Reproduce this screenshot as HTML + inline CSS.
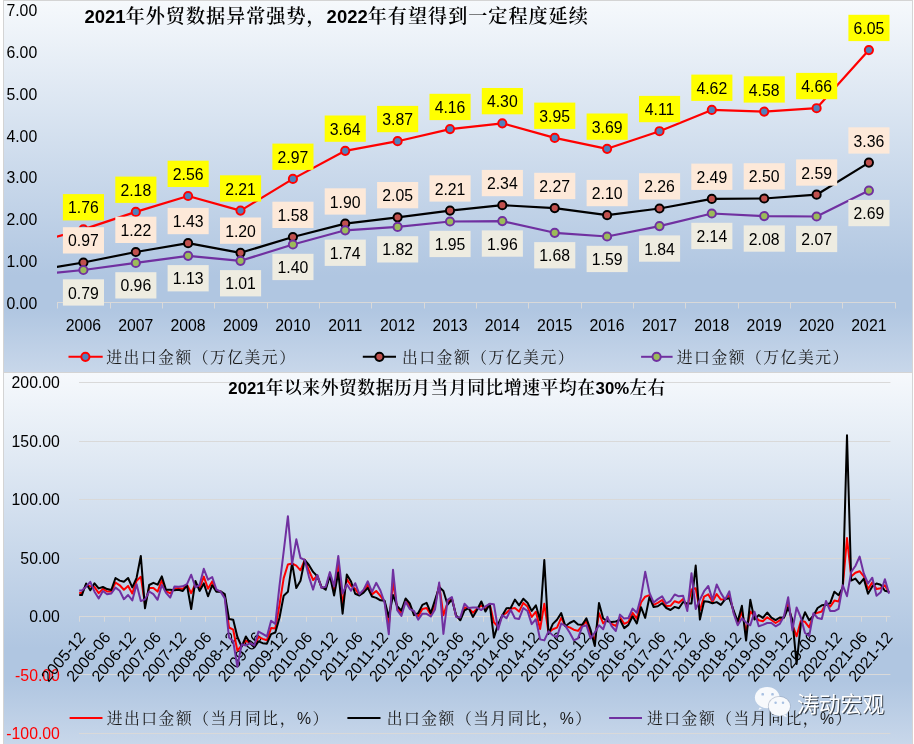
<!DOCTYPE html>
<html lang="zh-CN"><head><meta charset="utf-8"><title>2021年外贸数据</title>
<style>html,body{margin:0;padding:0;background:#fff;}svg{display:block;will-change:transform;}text{font-family:"Liberation Sans","Noto Sans CJK SC",sans-serif;}.num{font-size:15.8px;fill:#000;}.neg{font-size:15.8px;fill:#ff0000;}.lg{font-family:"Liberation Sans","Noto Serif CJK SC",serif;font-size:15.8px;letter-spacing:1.5px;fill:#1a1a1a;}.t1{font-family:"Liberation Sans","Noto Serif CJK SC",serif;font-weight:600;font-size:19.1px;letter-spacing:1px;fill:#000;}.t2{font-family:"Liberation Sans","Noto Serif CJK SC",serif;font-weight:600;font-size:17.8px;letter-spacing:0.55px;fill:#000;}</style></head><body>
<svg width="914" height="744" viewBox="0 0 914 744">
<defs><linearGradient id="bg" x1="0" y1="0" x2="0" y2="1"><stop offset="0" stop-color="#f6f9fc"/><stop offset="0.74" stop-color="#b0c6e1"/><stop offset="0.83" stop-color="#b0c6e1"/><stop offset="1" stop-color="#c8d7ea"/></linearGradient><clipPath id="c1"><rect x="57" y="0" width="839" height="372"/></clipPath></defs>
<rect x="0" y="0" width="914" height="744" fill="#ffffff"/>
<rect x="3.5" y="0.5" width="909" height="372" fill="url(#bg)" stroke="#d4d4d4" stroke-width="1"/>
<rect x="3.5" y="372.5" width="909" height="372" fill="url(#bg)" stroke="#d4d4d4" stroke-width="1"/>
<text class="num" x="37.2" y="308.7" text-anchor="end">0.00</text>
<text class="num" x="37.2" y="266.9" text-anchor="end">1.00</text>
<text class="num" x="37.2" y="225.1" text-anchor="end">2.00</text>
<text class="num" x="37.2" y="183.3" text-anchor="end">3.00</text>
<text class="num" x="37.2" y="141.5" text-anchor="end">4.00</text>
<text class="num" x="37.2" y="99.7" text-anchor="end">5.00</text>
<text class="num" x="37.2" y="57.9" text-anchor="end">6.00</text>
<text class="num" x="37.2" y="16.1" text-anchor="end">7.00</text>
<path d="M57 302.5H895.6" stroke="#d9d9d9" stroke-width="1" fill="none"/>
<path d="M57.5 302.5v6M110.5 302.5v6M162.5 302.5v6M214.5 302.5v6M267.5 302.5v6M319.5 302.5v6M371.5 302.5v6M424.5 302.5v6M476.5 302.5v6M528.5 302.5v6M581.5 302.5v6M633.5 302.5v6M685.5 302.5v6M738.5 302.5v6M790.5 302.5v6M842.5 302.5v6M895.5 302.5v6" stroke="#d9d9d9" stroke-width="1" fill="none"/>
<text class="num" x="83.4" y="331.4" text-anchor="middle">2006</text>
<text class="num" x="135.8" y="331.4" text-anchor="middle">2007</text>
<text class="num" x="188.1" y="331.4" text-anchor="middle">2008</text>
<text class="num" x="240.5" y="331.4" text-anchor="middle">2009</text>
<text class="num" x="292.9" y="331.4" text-anchor="middle">2010</text>
<text class="num" x="345.2" y="331.4" text-anchor="middle">2011</text>
<text class="num" x="397.6" y="331.4" text-anchor="middle">2012</text>
<text class="num" x="450.0" y="331.4" text-anchor="middle">2013</text>
<text class="num" x="502.3" y="331.4" text-anchor="middle">2014</text>
<text class="num" x="554.7" y="331.4" text-anchor="middle">2015</text>
<text class="num" x="607.1" y="331.4" text-anchor="middle">2016</text>
<text class="num" x="659.5" y="331.4" text-anchor="middle">2017</text>
<text class="num" x="711.8" y="331.4" text-anchor="middle">2018</text>
<text class="num" x="764.2" y="331.4" text-anchor="middle">2019</text>
<text class="num" x="816.6" y="331.4" text-anchor="middle">2020</text>
<text class="num" x="868.9" y="331.4" text-anchor="middle">2021</text>
<text class="t1" x="84.5" y="23.4"><tspan style="font-size:18.5px;letter-spacing:0">2021</tspan>年外贸数据异常强势，<tspan style="font-size:18.5px;letter-spacing:0">2022</tspan>年有望得到一定程度延续</text>
<g clip-path="url(#c1)"><polyline points="31.0,243.6 83.4,229.4 135.8,211.9 188.1,196.0 240.5,210.6 292.9,178.9 345.2,150.8 397.6,141.2 450.0,129.1 502.3,123.3 554.7,137.9 607.1,148.8 659.5,131.2 711.8,109.9 764.2,111.6 816.6,108.2 868.9,50.1" fill="none" stroke="#ff0000" stroke-width="2.2" stroke-linejoin="round"/></g>
<circle cx="83.4" cy="229.4" r="4.1" fill="#4f81bd" stroke="#ff0000" stroke-width="1.95"/>
<circle cx="135.8" cy="211.9" r="4.1" fill="#4f81bd" stroke="#ff0000" stroke-width="1.95"/>
<circle cx="188.1" cy="196.0" r="4.1" fill="#4f81bd" stroke="#ff0000" stroke-width="1.95"/>
<circle cx="240.5" cy="210.6" r="4.1" fill="#4f81bd" stroke="#ff0000" stroke-width="1.95"/>
<circle cx="292.9" cy="178.9" r="4.1" fill="#4f81bd" stroke="#ff0000" stroke-width="1.95"/>
<circle cx="345.2" cy="150.8" r="4.1" fill="#4f81bd" stroke="#ff0000" stroke-width="1.95"/>
<circle cx="397.6" cy="141.2" r="4.1" fill="#4f81bd" stroke="#ff0000" stroke-width="1.95"/>
<circle cx="450.0" cy="129.1" r="4.1" fill="#4f81bd" stroke="#ff0000" stroke-width="1.95"/>
<circle cx="502.3" cy="123.3" r="4.1" fill="#4f81bd" stroke="#ff0000" stroke-width="1.95"/>
<circle cx="554.7" cy="137.9" r="4.1" fill="#4f81bd" stroke="#ff0000" stroke-width="1.95"/>
<circle cx="607.1" cy="148.8" r="4.1" fill="#4f81bd" stroke="#ff0000" stroke-width="1.95"/>
<circle cx="659.5" cy="131.2" r="4.1" fill="#4f81bd" stroke="#ff0000" stroke-width="1.95"/>
<circle cx="711.8" cy="109.9" r="4.1" fill="#4f81bd" stroke="#ff0000" stroke-width="1.95"/>
<circle cx="764.2" cy="111.6" r="4.1" fill="#4f81bd" stroke="#ff0000" stroke-width="1.95"/>
<circle cx="816.6" cy="108.2" r="4.1" fill="#4f81bd" stroke="#ff0000" stroke-width="1.95"/>
<circle cx="868.9" cy="50.1" r="4.1" fill="#4f81bd" stroke="#ff0000" stroke-width="1.95"/>
<g clip-path="url(#c1)"><polyline points="31.0,271.1 83.4,262.5 135.8,252.0 188.1,243.2 240.5,252.8 292.9,237.0 345.2,223.6 397.6,217.3 450.0,210.6 502.3,205.2 554.7,208.1 607.1,215.2 659.5,208.5 711.8,198.9 764.2,198.5 816.6,194.7 868.9,162.6" fill="none" stroke="#000000" stroke-width="2.2" stroke-linejoin="round"/></g>
<circle cx="83.4" cy="262.5" r="4.1" fill="#c0504d" stroke="#000000" stroke-width="1.95"/>
<circle cx="135.8" cy="252.0" r="4.1" fill="#c0504d" stroke="#000000" stroke-width="1.95"/>
<circle cx="188.1" cy="243.2" r="4.1" fill="#c0504d" stroke="#000000" stroke-width="1.95"/>
<circle cx="240.5" cy="252.8" r="4.1" fill="#c0504d" stroke="#000000" stroke-width="1.95"/>
<circle cx="292.9" cy="237.0" r="4.1" fill="#c0504d" stroke="#000000" stroke-width="1.95"/>
<circle cx="345.2" cy="223.6" r="4.1" fill="#c0504d" stroke="#000000" stroke-width="1.95"/>
<circle cx="397.6" cy="217.3" r="4.1" fill="#c0504d" stroke="#000000" stroke-width="1.95"/>
<circle cx="450.0" cy="210.6" r="4.1" fill="#c0504d" stroke="#000000" stroke-width="1.95"/>
<circle cx="502.3" cy="205.2" r="4.1" fill="#c0504d" stroke="#000000" stroke-width="1.95"/>
<circle cx="554.7" cy="208.1" r="4.1" fill="#c0504d" stroke="#000000" stroke-width="1.95"/>
<circle cx="607.1" cy="215.2" r="4.1" fill="#c0504d" stroke="#000000" stroke-width="1.95"/>
<circle cx="659.5" cy="208.5" r="4.1" fill="#c0504d" stroke="#000000" stroke-width="1.95"/>
<circle cx="711.8" cy="198.9" r="4.1" fill="#c0504d" stroke="#000000" stroke-width="1.95"/>
<circle cx="764.2" cy="198.5" r="4.1" fill="#c0504d" stroke="#000000" stroke-width="1.95"/>
<circle cx="816.6" cy="194.7" r="4.1" fill="#c0504d" stroke="#000000" stroke-width="1.95"/>
<circle cx="868.9" cy="162.6" r="4.1" fill="#c0504d" stroke="#000000" stroke-width="1.95"/>
<g clip-path="url(#c1)"><polyline points="31.0,275.4 83.4,270.0 135.8,262.9 188.1,255.8 240.5,260.8 292.9,244.5 345.2,230.3 397.6,226.9 450.0,221.5 502.3,221.1 554.7,232.8 607.1,236.5 659.5,226.1 711.8,213.5 764.2,216.1 816.6,216.5 868.9,190.6" fill="none" stroke="#7030a0" stroke-width="2.2" stroke-linejoin="round"/></g>
<circle cx="83.4" cy="270.0" r="4.1" fill="#9bbb59" stroke="#7030a0" stroke-width="1.95"/>
<circle cx="135.8" cy="262.9" r="4.1" fill="#9bbb59" stroke="#7030a0" stroke-width="1.95"/>
<circle cx="188.1" cy="255.8" r="4.1" fill="#9bbb59" stroke="#7030a0" stroke-width="1.95"/>
<circle cx="240.5" cy="260.8" r="4.1" fill="#9bbb59" stroke="#7030a0" stroke-width="1.95"/>
<circle cx="292.9" cy="244.5" r="4.1" fill="#9bbb59" stroke="#7030a0" stroke-width="1.95"/>
<circle cx="345.2" cy="230.3" r="4.1" fill="#9bbb59" stroke="#7030a0" stroke-width="1.95"/>
<circle cx="397.6" cy="226.9" r="4.1" fill="#9bbb59" stroke="#7030a0" stroke-width="1.95"/>
<circle cx="450.0" cy="221.5" r="4.1" fill="#9bbb59" stroke="#7030a0" stroke-width="1.95"/>
<circle cx="502.3" cy="221.1" r="4.1" fill="#9bbb59" stroke="#7030a0" stroke-width="1.95"/>
<circle cx="554.7" cy="232.8" r="4.1" fill="#9bbb59" stroke="#7030a0" stroke-width="1.95"/>
<circle cx="607.1" cy="236.5" r="4.1" fill="#9bbb59" stroke="#7030a0" stroke-width="1.95"/>
<circle cx="659.5" cy="226.1" r="4.1" fill="#9bbb59" stroke="#7030a0" stroke-width="1.95"/>
<circle cx="711.8" cy="213.5" r="4.1" fill="#9bbb59" stroke="#7030a0" stroke-width="1.95"/>
<circle cx="764.2" cy="216.1" r="4.1" fill="#9bbb59" stroke="#7030a0" stroke-width="1.95"/>
<circle cx="816.6" cy="216.5" r="4.1" fill="#9bbb59" stroke="#7030a0" stroke-width="1.95"/>
<circle cx="868.9" cy="190.6" r="4.1" fill="#9bbb59" stroke="#7030a0" stroke-width="1.95"/>
<rect x="62.9" y="194.1" width="41.1" height="26.3" fill="#ffff00"/>
<text class="num" x="83.4" y="213.3" text-anchor="middle">1.76</text>
<rect x="115.3" y="176.6" width="41.1" height="26.3" fill="#ffff00"/>
<text class="num" x="135.8" y="195.8" text-anchor="middle">2.18</text>
<rect x="167.6" y="160.7" width="41.1" height="26.3" fill="#ffff00"/>
<text class="num" x="188.1" y="179.9" text-anchor="middle">2.56</text>
<rect x="220.0" y="175.3" width="41.1" height="26.3" fill="#ffff00"/>
<text class="num" x="240.5" y="194.5" text-anchor="middle">2.21</text>
<rect x="272.4" y="143.6" width="41.1" height="26.3" fill="#ffff00"/>
<text class="num" x="292.9" y="162.8" text-anchor="middle">2.97</text>
<rect x="324.7" y="115.5" width="41.1" height="26.3" fill="#ffff00"/>
<text class="num" x="345.2" y="134.7" text-anchor="middle">3.64</text>
<rect x="377.1" y="105.9" width="41.1" height="26.3" fill="#ffff00"/>
<text class="num" x="397.6" y="125.1" text-anchor="middle">3.87</text>
<rect x="429.5" y="93.8" width="41.1" height="26.3" fill="#ffff00"/>
<text class="num" x="450.0" y="113.0" text-anchor="middle">4.16</text>
<rect x="481.8" y="88.0" width="41.1" height="26.3" fill="#ffff00"/>
<text class="num" x="502.3" y="107.2" text-anchor="middle">4.30</text>
<rect x="534.2" y="102.6" width="41.1" height="26.3" fill="#ffff00"/>
<text class="num" x="554.7" y="121.8" text-anchor="middle">3.95</text>
<rect x="586.6" y="113.5" width="41.1" height="26.3" fill="#ffff00"/>
<text class="num" x="607.1" y="132.7" text-anchor="middle">3.69</text>
<rect x="639.0" y="95.9" width="41.1" height="26.3" fill="#ffff00"/>
<text class="num" x="659.5" y="115.1" text-anchor="middle">4.11</text>
<rect x="691.3" y="74.6" width="41.1" height="26.3" fill="#ffff00"/>
<text class="num" x="711.8" y="93.8" text-anchor="middle">4.62</text>
<rect x="743.7" y="76.3" width="41.1" height="26.3" fill="#ffff00"/>
<text class="num" x="764.2" y="95.5" text-anchor="middle">4.58</text>
<rect x="796.1" y="72.9" width="41.1" height="26.3" fill="#ffff00"/>
<text class="num" x="816.6" y="92.1" text-anchor="middle">4.66</text>
<rect x="848.4" y="14.8" width="41.1" height="26.3" fill="#ffff00"/>
<text class="num" x="868.9" y="34.0" text-anchor="middle">6.05</text>
<rect x="62.9" y="227.2" width="41.1" height="26.3" fill="#fde9d9"/>
<text class="num" x="83.4" y="246.4" text-anchor="middle">0.97</text>
<rect x="115.3" y="216.7" width="41.1" height="26.3" fill="#fde9d9"/>
<text class="num" x="135.8" y="235.9" text-anchor="middle">1.22</text>
<rect x="167.6" y="207.9" width="41.1" height="26.3" fill="#fde9d9"/>
<text class="num" x="188.1" y="227.1" text-anchor="middle">1.43</text>
<rect x="220.0" y="217.5" width="41.1" height="26.3" fill="#fde9d9"/>
<text class="num" x="240.5" y="236.7" text-anchor="middle">1.20</text>
<rect x="272.4" y="201.7" width="41.1" height="26.3" fill="#fde9d9"/>
<text class="num" x="292.9" y="220.9" text-anchor="middle">1.58</text>
<rect x="324.7" y="188.3" width="41.1" height="26.3" fill="#fde9d9"/>
<text class="num" x="345.2" y="207.5" text-anchor="middle">1.90</text>
<rect x="377.1" y="182.0" width="41.1" height="26.3" fill="#fde9d9"/>
<text class="num" x="397.6" y="201.2" text-anchor="middle">2.05</text>
<rect x="429.5" y="175.3" width="41.1" height="26.3" fill="#fde9d9"/>
<text class="num" x="450.0" y="194.5" text-anchor="middle">2.21</text>
<rect x="481.8" y="169.9" width="41.1" height="26.3" fill="#fde9d9"/>
<text class="num" x="502.3" y="189.1" text-anchor="middle">2.34</text>
<rect x="534.2" y="172.8" width="41.1" height="26.3" fill="#fde9d9"/>
<text class="num" x="554.7" y="192.0" text-anchor="middle">2.27</text>
<rect x="586.6" y="179.9" width="41.1" height="26.3" fill="#fde9d9"/>
<text class="num" x="607.1" y="199.1" text-anchor="middle">2.10</text>
<rect x="639.0" y="173.2" width="41.1" height="26.3" fill="#fde9d9"/>
<text class="num" x="659.5" y="192.4" text-anchor="middle">2.26</text>
<rect x="691.3" y="163.6" width="41.1" height="26.3" fill="#fde9d9"/>
<text class="num" x="711.8" y="182.8" text-anchor="middle">2.49</text>
<rect x="743.7" y="163.2" width="41.1" height="26.3" fill="#fde9d9"/>
<text class="num" x="764.2" y="182.4" text-anchor="middle">2.50</text>
<rect x="796.1" y="159.4" width="41.1" height="26.3" fill="#fde9d9"/>
<text class="num" x="816.6" y="178.6" text-anchor="middle">2.59</text>
<rect x="848.4" y="127.3" width="41.1" height="26.3" fill="#fde9d9"/>
<text class="num" x="868.9" y="146.5" text-anchor="middle">3.36</text>
<rect x="62.9" y="279.3" width="41.1" height="26.3" fill="#eeece1"/>
<text class="num" x="83.4" y="298.5" text-anchor="middle">0.79</text>
<rect x="115.3" y="272.2" width="41.1" height="26.3" fill="#eeece1"/>
<text class="num" x="135.8" y="291.4" text-anchor="middle">0.96</text>
<rect x="167.6" y="265.1" width="41.1" height="26.3" fill="#eeece1"/>
<text class="num" x="188.1" y="284.3" text-anchor="middle">1.13</text>
<rect x="220.0" y="270.1" width="41.1" height="26.3" fill="#eeece1"/>
<text class="num" x="240.5" y="289.3" text-anchor="middle">1.01</text>
<rect x="272.4" y="253.8" width="41.1" height="26.3" fill="#eeece1"/>
<text class="num" x="292.9" y="273.0" text-anchor="middle">1.40</text>
<rect x="324.7" y="239.6" width="41.1" height="26.3" fill="#eeece1"/>
<text class="num" x="345.2" y="258.8" text-anchor="middle">1.74</text>
<rect x="377.1" y="236.2" width="41.1" height="26.3" fill="#eeece1"/>
<text class="num" x="397.6" y="255.4" text-anchor="middle">1.82</text>
<rect x="429.5" y="230.8" width="41.1" height="26.3" fill="#eeece1"/>
<text class="num" x="450.0" y="250.0" text-anchor="middle">1.95</text>
<rect x="481.8" y="230.4" width="41.1" height="26.3" fill="#eeece1"/>
<text class="num" x="502.3" y="249.6" text-anchor="middle">1.96</text>
<rect x="534.2" y="242.1" width="41.1" height="26.3" fill="#eeece1"/>
<text class="num" x="554.7" y="261.3" text-anchor="middle">1.68</text>
<rect x="586.6" y="245.8" width="41.1" height="26.3" fill="#eeece1"/>
<text class="num" x="607.1" y="265.0" text-anchor="middle">1.59</text>
<rect x="639.0" y="235.4" width="41.1" height="26.3" fill="#eeece1"/>
<text class="num" x="659.5" y="254.6" text-anchor="middle">1.84</text>
<rect x="691.3" y="222.8" width="41.1" height="26.3" fill="#eeece1"/>
<text class="num" x="711.8" y="242.0" text-anchor="middle">2.14</text>
<rect x="743.7" y="225.4" width="41.1" height="26.3" fill="#eeece1"/>
<text class="num" x="764.2" y="244.6" text-anchor="middle">2.08</text>
<rect x="796.1" y="225.8" width="41.1" height="26.3" fill="#eeece1"/>
<text class="num" x="816.6" y="245.0" text-anchor="middle">2.07</text>
<rect x="848.4" y="199.9" width="41.1" height="26.3" fill="#eeece1"/>
<text class="num" x="868.9" y="219.1" text-anchor="middle">2.69</text>
<path d="M68.5 356.8H102.7" stroke="#ff0000" stroke-width="2"/>
<circle cx="85.4" cy="356.8" r="4.1" fill="#4f81bd" stroke="#ff0000" stroke-width="1.95"/>
<text class="lg" x="106.2" y="363">进出口金额（万亿美元）</text>
<path d="M362.8 356.8H396" stroke="#000000" stroke-width="2"/>
<circle cx="379.4" cy="356.8" r="4.1" fill="#c0504d" stroke="#000000" stroke-width="1.95"/>
<text class="lg" x="402.0" y="363">出口金额（万亿美元）</text>
<path d="M641.1 356.8H672.6" stroke="#7030a0" stroke-width="2"/>
<circle cx="656.6" cy="356.8" r="4.1" fill="#9bbb59" stroke="#7030a0" stroke-width="1.95"/>
<text class="lg" x="676.8" y="363">进口金额（万亿美元）</text>
<path d="M79 382.5H890.4M79 441.5H890.4M79 499.5H890.4M79 558.5H890.4M79 674.5H890.4M79 733.5H890.4" stroke="#d9d9d9" stroke-width="1" fill="none"/>
<path d="M79 616.5H890.4M79.5 616.5v5.2M104.5 616.5v5.2M129.5 616.5v5.2M155.5 616.5v5.2M180.5 616.5v5.2M205.5 616.5v5.2M230.5 616.5v5.2M256.5 616.5v5.2M281.5 616.5v5.2M306.5 616.5v5.2M331.5 616.5v5.2M356.5 616.5v5.2M382.5 616.5v5.2M407.5 616.5v5.2M432.5 616.5v5.2M457.5 616.5v5.2M483.5 616.5v5.2M508.5 616.5v5.2M533.5 616.5v5.2M558.5 616.5v5.2M583.5 616.5v5.2M609.5 616.5v5.2M634.5 616.5v5.2M659.5 616.5v5.2M684.5 616.5v5.2M710.5 616.5v5.2M735.5 616.5v5.2M760.5 616.5v5.2M785.5 616.5v5.2M810.5 616.5v5.2M836.5 616.5v5.2M861.5 616.5v5.2M886.5 616.5v5.2" stroke="#d9d9d9" stroke-width="1" fill="none"/>
<text class="num" x="59.9" y="388.0" text-anchor="end">200.00</text>
<text class="num" x="59.9" y="446.5" text-anchor="end">150.00</text>
<text class="num" x="59.9" y="505.0" text-anchor="end">100.00</text>
<text class="num" x="59.9" y="563.5" text-anchor="end">50.00</text>
<text class="num" x="59.9" y="622.0" text-anchor="end">0.00</text>
<text class="neg" x="59.9" y="680.5" text-anchor="end">-50.00</text>
<text class="neg" x="59.9" y="739.0" text-anchor="end">-100.00</text>
<text class="t2" x="228.3" y="393.7"><tspan style="font-size:16.8px;letter-spacing:0">2021</tspan>年以来外贸数据历月当月同比增速平均在<tspan style="font-size:16.8px;letter-spacing:0">30%</tspan>左右</text>
<text class="num" style="font-size:16px" transform="translate(86.3 637.8) rotate(-50)" text-anchor="end">2005-12</text>
<text class="num" style="font-size:16px" transform="translate(111.5 637.8) rotate(-50)" text-anchor="end">2006-06</text>
<text class="num" style="font-size:16px" transform="translate(136.8 637.8) rotate(-50)" text-anchor="end">2006-12</text>
<text class="num" style="font-size:16px" transform="translate(162.0 637.8) rotate(-50)" text-anchor="end">2007-06</text>
<text class="num" style="font-size:16px" transform="translate(187.2 637.8) rotate(-50)" text-anchor="end">2007-12</text>
<text class="num" style="font-size:16px" transform="translate(212.4 637.8) rotate(-50)" text-anchor="end">2008-06</text>
<text class="num" style="font-size:16px" transform="translate(237.6 637.8) rotate(-50)" text-anchor="end">2008-12</text>
<text class="num" style="font-size:16px" transform="translate(262.9 637.8) rotate(-50)" text-anchor="end">2009-06</text>
<text class="num" style="font-size:16px" transform="translate(288.1 637.8) rotate(-50)" text-anchor="end">2009-12</text>
<text class="num" style="font-size:16px" transform="translate(313.3 637.8) rotate(-50)" text-anchor="end">2010-06</text>
<text class="num" style="font-size:16px" transform="translate(338.5 637.8) rotate(-50)" text-anchor="end">2010-12</text>
<text class="num" style="font-size:16px" transform="translate(363.8 637.8) rotate(-50)" text-anchor="end">2011-06</text>
<text class="num" style="font-size:16px" transform="translate(389.0 637.8) rotate(-50)" text-anchor="end">2011-12</text>
<text class="num" style="font-size:16px" transform="translate(414.2 637.8) rotate(-50)" text-anchor="end">2012-06</text>
<text class="num" style="font-size:16px" transform="translate(439.4 637.8) rotate(-50)" text-anchor="end">2012-12</text>
<text class="num" style="font-size:16px" transform="translate(464.7 637.8) rotate(-50)" text-anchor="end">2013-06</text>
<text class="num" style="font-size:16px" transform="translate(489.9 637.8) rotate(-50)" text-anchor="end">2013-12</text>
<text class="num" style="font-size:16px" transform="translate(515.1 637.8) rotate(-50)" text-anchor="end">2014-06</text>
<text class="num" style="font-size:16px" transform="translate(540.3 637.8) rotate(-50)" text-anchor="end">2014-12</text>
<text class="num" style="font-size:16px" transform="translate(565.6 637.8) rotate(-50)" text-anchor="end">2015-06</text>
<text class="num" style="font-size:16px" transform="translate(590.8 637.8) rotate(-50)" text-anchor="end">2015-12</text>
<text class="num" style="font-size:16px" transform="translate(616.0 637.8) rotate(-50)" text-anchor="end">2016-06</text>
<text class="num" style="font-size:16px" transform="translate(641.2 637.8) rotate(-50)" text-anchor="end">2016-12</text>
<text class="num" style="font-size:16px" transform="translate(666.5 637.8) rotate(-50)" text-anchor="end">2017-06</text>
<text class="num" style="font-size:16px" transform="translate(691.7 637.8) rotate(-50)" text-anchor="end">2017-12</text>
<text class="num" style="font-size:16px" transform="translate(716.9 637.8) rotate(-50)" text-anchor="end">2018-06</text>
<text class="num" style="font-size:16px" transform="translate(742.1 637.8) rotate(-50)" text-anchor="end">2018-12</text>
<text class="num" style="font-size:16px" transform="translate(767.3 637.8) rotate(-50)" text-anchor="end">2019-06</text>
<text class="num" style="font-size:16px" transform="translate(792.6 637.8) rotate(-50)" text-anchor="end">2019-12</text>
<text class="num" style="font-size:16px" transform="translate(817.8 637.8) rotate(-50)" text-anchor="end">2020-06</text>
<text class="num" style="font-size:16px" transform="translate(843.0 637.8) rotate(-50)" text-anchor="end">2020-12</text>
<text class="num" style="font-size:16px" transform="translate(868.2 637.8) rotate(-50)" text-anchor="end">2021-06</text>
<text class="num" style="font-size:16px" transform="translate(893.5 637.8) rotate(-50)" text-anchor="end">2021-12</text>
<polyline points="79.2,593.0 81.9,593.0 86.1,584.9 90.3,586.3 94.5,587.1 98.7,593.1 102.9,588.9 107.1,591.5 111.3,591.5 115.5,582.5 119.7,585.3 123.9,589.8 128.1,585.9 132.3,593.4 136.6,580.7 140.8,576.7 145.0,604.2 149.2,588.0 153.4,588.0 157.6,591.6 161.8,580.4 166.0,591.2 170.2,593.4 174.4,588.6 178.6,588.3 182.8,588.9 187.0,584.8 191.2,593.2 195.4,583.9 199.6,588.2 203.8,576.6 208.0,588.7 212.2,581.4 216.4,590.8 220.6,591.5 224.8,596.2 229.0,627.5 233.2,629.7 237.4,650.7 241.7,645.5 245.9,640.6 250.1,643.1 254.3,646.5 258.5,636.9 262.7,638.9 266.9,640.3 271.1,628.0 275.3,628.6 279.5,604.9 283.7,578.1 287.9,564.5 292.1,563.5 296.3,565.6 300.5,570.3 304.7,559.8 308.9,570.4 313.1,580.0 317.3,575.6 321.5,587.4 325.7,588.3 329.9,573.9 334.1,591.4 338.3,564.9 342.6,604.3 346.8,579.1 351.0,585.7 355.2,588.9 359.4,594.9 363.6,591.2 367.8,584.8 372.0,594.4 376.2,591.0 380.4,595.8 384.6,601.7 388.8,625.5 393.0,582.0 397.2,608.0 401.4,613.1 405.6,599.9 409.8,606.1 414.0,613.2 418.2,616.2 422.4,608.9 426.6,608.0 430.8,614.6 435.0,604.3 439.2,585.0 443.4,615.2 447.6,602.5 451.9,598.3 456.1,616.0 460.3,619.0 464.5,607.4 468.7,608.1 472.9,612.7 477.1,608.8 481.3,605.5 485.5,609.1 489.7,604.0 493.9,622.2 498.1,626.7 502.3,615.3 506.5,612.8 510.7,608.8 514.9,608.1 519.1,611.6 523.3,602.9 527.5,606.6 531.7,617.0 535.9,611.7 540.1,629.0 544.3,603.8 548.5,632.7 552.8,629.2 557.0,627.6 561.2,617.9 565.4,626.1 569.6,627.4 573.8,629.7 578.0,630.9 582.2,625.6 586.4,621.5 590.6,633.8 594.8,639.9 599.0,613.2 603.2,623.4 607.4,619.2 611.6,624.0 615.8,625.9 620.0,617.3 624.2,623.8 628.4,621.8 632.6,612.8 636.8,618.6 641.0,602.5 645.2,596.7 649.4,595.1 653.6,604.9 657.8,602.9 662.1,600.0 666.3,606.0 670.5,605.8 674.7,601.2 678.9,602.8 683.1,599.1 687.3,607.0 691.5,589.5 695.7,588.3 699.9,610.3 704.1,596.6 708.3,594.4 712.5,601.7 716.7,594.1 720.9,599.6 725.1,599.6 729.3,595.0 733.5,611.4 737.7,623.3 741.9,611.5 746.1,632.3 750.3,611.5 754.5,615.9 758.7,620.3 762.9,621.2 767.2,617.3 771.4,620.0 775.6,623.0 779.8,620.4 784.0,617.0 788.2,602.8 792.4,624.7 796.6,636.3 800.8,621.1 805.0,621.8 809.2,627.5 813.4,614.6 817.6,612.7 821.8,611.5 826.0,603.1 830.2,606.7 834.4,600.6 838.6,601.4 842.8,586.4 847.0,538.0 851.2,576.6 855.4,572.8 859.6,571.2 863.8,576.3 868.0,589.1 872.3,582.4 876.5,589.1 880.7,588.2 884.9,585.4 889.1,592.6" fill="none" stroke="#ff0000" stroke-width="2" stroke-linejoin="round"/>
<polyline points="79.2,595.1 81.9,595.1 86.1,583.5 90.3,590.3 94.5,583.3 98.7,588.4 102.9,587.0 107.1,589.1 111.3,590.0 115.5,578.0 119.7,580.6 123.9,581.8 128.1,578.0 132.3,587.4 136.6,577.8 140.8,555.9 145.0,608.3 149.2,585.0 153.4,582.8 157.6,584.7 161.8,576.4 166.0,589.8 170.2,589.7 174.4,590.3 178.6,589.7 182.8,591.0 187.0,585.4 191.2,609.0 195.4,580.9 199.6,590.9 203.8,583.4 208.0,596.3 212.2,585.2 216.4,591.8 220.6,591.4 224.8,594.2 229.0,619.0 233.2,619.8 237.4,637.0 241.7,646.6 245.9,636.5 250.1,643.1 254.3,647.4 258.5,641.4 262.7,643.2 266.9,643.7 271.1,634.1 275.3,632.5 279.5,617.8 283.7,595.8 287.9,591.8 292.1,562.9 296.3,588.1 300.5,580.8 304.7,559.8 308.9,565.0 313.1,571.9 317.3,576.3 321.5,587.0 325.7,589.7 329.9,575.6 334.1,595.5 338.3,572.4 342.6,613.7 346.8,574.5 351.0,581.5 355.2,593.8 359.4,595.5 363.6,592.6 367.8,587.9 372.0,596.5 376.2,597.9 380.4,600.3 384.6,600.8 388.8,617.0 393.0,595.0 397.2,606.1 401.4,610.7 405.6,598.5 409.8,603.4 414.0,615.2 418.2,613.2 422.4,604.9 426.6,602.9 430.8,613.0 435.0,600.0 439.2,587.1 443.4,591.0 447.6,604.7 451.9,599.3 456.1,615.3 460.3,620.3 464.5,610.4 468.7,608.1 472.9,616.9 477.1,609.8 481.3,601.5 485.5,611.5 489.7,604.1 493.9,637.6 498.1,624.1 502.3,615.5 506.5,608.2 510.7,608.0 514.9,599.6 519.1,605.4 523.3,598.7 527.5,602.8 531.7,610.9 535.9,605.3 540.1,620.3 544.3,560.0 548.5,633.9 552.8,623.9 557.0,619.7 561.2,613.1 565.4,626.2 569.6,623.0 573.8,620.8 578.0,624.6 582.2,624.8 586.4,618.4 590.6,629.9 594.8,646.1 599.0,602.9 603.2,618.5 607.4,621.2 611.6,622.0 615.8,621.5 620.0,619.7 624.2,628.1 628.4,624.9 632.6,616.3 636.8,623.5 641.0,607.2 645.2,617.9 649.4,597.2 653.6,607.0 657.8,606.2 662.1,603.2 666.3,608.0 670.5,610.0 674.7,606.9 678.9,608.3 683.1,602.0 687.3,603.6 691.5,603.4 695.7,565.5 699.9,619.6 704.1,601.3 708.3,601.7 712.5,603.2 716.7,602.1 720.9,604.9 725.1,599.4 729.3,598.1 733.5,610.1 737.7,621.5 741.9,605.8 746.1,640.6 750.3,599.8 754.5,619.6 758.7,615.1 762.9,617.9 767.2,612.5 771.4,617.6 775.6,620.1 779.8,617.5 784.0,617.7 788.2,607.5 792.4,619.9 796.6,663.9 800.8,624.1 805.0,612.3 809.2,620.3 813.4,615.8 817.6,608.0 821.8,605.3 826.0,604.8 830.2,603.1 834.4,591.7 838.6,595.2 842.8,587.4 847.0,435.2 851.2,580.6 855.4,578.6 859.6,583.8 863.8,578.7 868.0,593.8 872.3,586.4 876.5,583.5 880.7,584.7 884.9,590.7 889.1,591.9" fill="none" stroke="#000000" stroke-width="2" stroke-linejoin="round"/>
<polyline points="79.2,590.4 81.9,590.4 86.1,586.7 90.3,581.8 94.5,591.7 98.7,598.5 102.9,591.0 107.1,594.3 111.3,593.4 115.5,587.6 119.7,590.7 123.9,599.2 128.1,595.0 132.3,600.4 136.6,584.2 140.8,601.1 145.0,599.4 149.2,591.5 153.4,594.1 157.6,599.8 161.8,584.9 166.0,592.9 170.2,597.6 174.4,586.6 178.6,586.8 182.8,586.3 187.0,584.1 191.2,574.7 195.4,587.3 199.6,585.0 203.8,568.8 208.0,579.7 212.2,577.0 216.4,589.5 220.6,591.6 224.8,598.4 229.0,637.5 233.2,641.3 237.4,666.8 241.7,644.2 245.9,645.5 250.1,643.1 254.3,645.4 258.5,631.6 262.7,633.8 266.9,636.4 271.1,620.8 275.3,623.9 279.5,585.6 283.7,551.3 287.9,516.2 292.1,564.2 296.3,539.3 300.5,558.0 304.7,559.8 308.9,576.6 313.1,589.6 317.3,574.9 321.5,587.9 325.7,586.7 329.9,572.1 334.1,586.4 338.3,556.0 342.6,593.4 346.8,584.3 351.0,590.7 355.2,583.2 359.4,594.2 363.6,589.6 367.8,581.3 372.0,591.8 376.2,582.8 380.4,590.5 384.6,602.6 388.8,634.2 393.0,569.7 397.2,610.1 401.4,615.9 405.6,601.7 409.8,609.1 414.0,611.0 418.2,619.6 422.4,613.7 426.6,613.8 430.8,616.5 435.0,609.4 439.2,582.5 443.4,633.9 447.6,599.8 451.9,597.0 456.1,616.9 460.3,617.5 464.5,603.8 468.7,608.1 472.9,607.6 477.1,607.6 481.3,610.1 485.5,606.3 489.7,603.8 493.9,604.2 498.1,629.6 502.3,615.1 506.5,618.2 510.7,609.8 514.9,618.2 519.1,618.9 523.3,608.0 527.5,611.0 531.7,624.1 535.9,619.2 540.1,639.4 544.3,640.4 548.5,631.3 552.8,635.4 557.0,637.0 561.2,623.5 565.4,625.9 569.6,632.5 573.8,640.3 578.0,638.4 582.2,626.6 586.4,625.3 590.6,638.4 594.8,632.5 599.0,625.3 603.2,629.2 607.4,616.9 611.6,626.2 615.8,631.0 620.0,614.6 624.2,618.6 628.4,618.0 632.6,608.6 636.8,612.8 641.0,596.9 645.2,571.8 649.4,592.6 653.6,602.5 657.8,599.1 662.1,596.3 666.3,603.5 670.5,600.8 674.7,594.5 678.9,596.3 683.1,595.7 687.3,611.1 691.5,573.2 695.7,609.0 699.9,599.6 704.1,591.2 708.3,586.0 712.5,599.9 716.7,584.5 720.9,593.1 725.1,599.7 729.3,591.4 733.5,612.9 737.7,625.3 741.9,618.2 746.1,622.5 750.3,625.3 754.5,611.7 758.7,626.3 762.9,624.9 767.2,623.0 771.4,623.0 775.6,626.3 779.8,623.9 784.0,616.0 788.2,597.3 792.4,630.4 796.6,607.4 800.8,617.5 805.0,633.0 809.2,635.9 813.4,613.2 817.6,618.0 821.8,618.9 826.0,601.0 830.2,610.9 834.4,611.1 838.6,608.8 842.8,585.3 847.0,596.2 851.2,571.8 855.4,566.0 859.6,556.6 863.8,573.5 868.0,583.5 872.3,577.7 876.5,595.8 880.7,592.3 884.9,579.3 889.1,593.6" fill="none" stroke="#7030a0" stroke-width="2" stroke-linejoin="round"/>
<path d="M69.6 718H102.5" stroke="#ff0000" stroke-width="2"/>
<text class="lg" x="106.7" y="723.7">进出口金额（当月同比，%）</text>
<path d="M347.4 718H380.5" stroke="#000000" stroke-width="2"/>
<text class="lg" x="386.7" y="723.7">出口金额（当月同比，%）</text>
<path d="M609.1 718H642" stroke="#7030a0" stroke-width="2"/>
<text class="lg" x="647.0" y="723.7">进口金额（当月同比，%）</text>
<g><path d="M759.6 707.6 l-1.2 2.4 l3.6 -1.6z" fill="#f7f9fc"/><ellipse cx="767.2" cy="697.6" rx="12.3" ry="10.6" fill="#f7f9fc"/><ellipse cx="779.3" cy="706.2" rx="11.4" ry="10.2" fill="#8f9db3" opacity="0.55"/><path d="M785.5 714.6 l1.6 2.6 l-4.4 -1.4z" fill="#f7f9fc"/><ellipse cx="779.4" cy="706.4" rx="10.7" ry="9.7" fill="#f7f9fc"/><rect x="761.4" y="693" width="2.6" height="2.6" rx="0.9" fill="#a9c1e2"/><rect x="771.2" y="693" width="2.6" height="2.6" rx="0.9" fill="#a9c1e2"/><circle cx="775.6" cy="702.7" r="1.25" fill="#a9c1e2"/><circle cx="783" cy="702.7" r="1.25" fill="#a9c1e2"/></g>
<text x="798.2" y="712.8" font-size="21.8" fill="#2a3038" opacity="0.85">涛动宏观</text>
<text x="797" y="711.6" font-size="21.8" fill="#ffffff">涛动宏观</text>
</svg></body></html>
